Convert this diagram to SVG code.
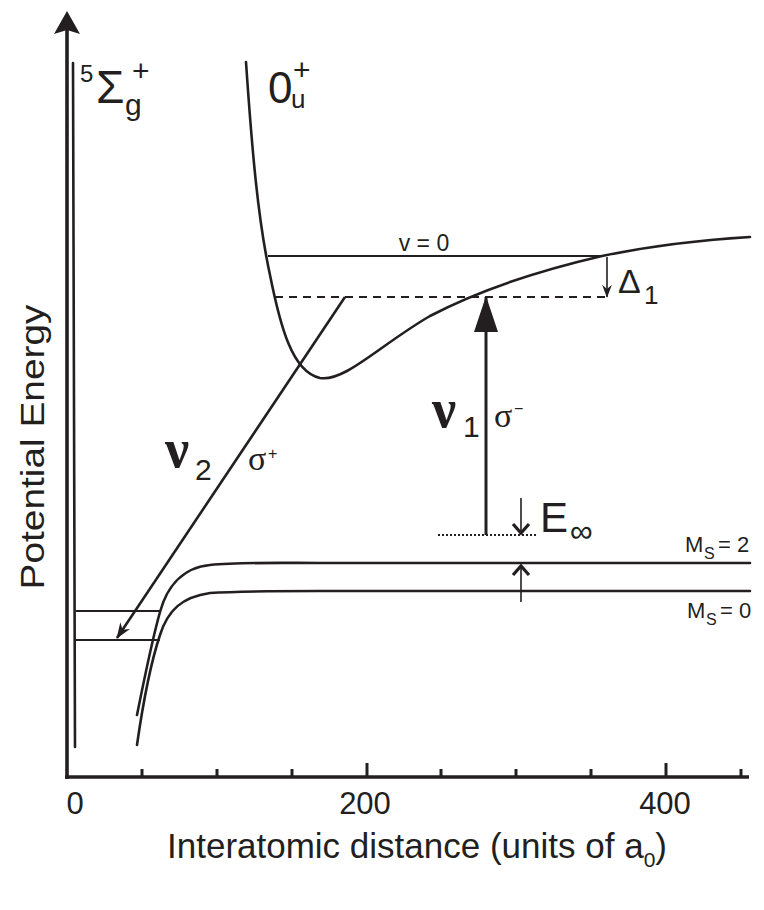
<svg xmlns="http://www.w3.org/2000/svg" width="764" height="910" viewBox="0 0 764 910">
<style>
.c{fill:none;stroke:#231f20;stroke-width:2.6;stroke-linecap:round}
.lv{fill:none;stroke:#231f20;stroke-width:2.2}
.ax{fill:none;stroke:#231f20;stroke-width:3.6}
.tk{stroke:#231f20;stroke-width:3}
.ar{fill:none;stroke:#231f20}
.s{font-family:"Liberation Sans",Arial,sans-serif;fill:#231f20}
.g{font-family:"Liberation Serif","Times New Roman",serif;fill:#231f20}
</style>
<defs>
<marker id="barb" viewBox="0 0 16 12" refX="15" refY="6" markerWidth="16" markerHeight="12" markerUnits="userSpaceOnUse" orient="auto">
<path d="M0,0 L16,6 L0,12 L5,6 Z" fill="#231f20"/>
</marker>
<marker id="barbS" viewBox="0 0 16 12" refX="15" refY="6" markerWidth="13" markerHeight="10" markerUnits="userSpaceOnUse" orient="auto">
<path d="M0,0 L16,6 L0,12 L5,6 Z" fill="#231f20"/>
</marker>
<marker id="tri" viewBox="0 0 36 24" refX="35" refY="12" markerWidth="36" markerHeight="24" markerUnits="userSpaceOnUse" orient="auto">
<path d="M0,0 L36,12 L0,24 Z" fill="#231f20"/>
</marker>
<marker id="chev" viewBox="0 0 12 20" refX="10" refY="10" markerWidth="12" markerHeight="20" markerUnits="userSpaceOnUse" orient="auto" overflow="visible">
<path d="M1,2 L10,10 L1,18" fill="none" stroke="#231f20" stroke-width="3.2"/>
</marker>
</defs>

<g id="axes">
<line class="ax" x1="67" y1="779" x2="67" y2="28"/>
<polygon points="67,11 80,34 67,30 54,34" fill="#231f20"/>
<line class="ax" x1="65.2" y1="777" x2="749" y2="777"/>
<g class="tk">
<line x1="142" y1="769" x2="142" y2="777"/>
<line x1="217" y1="769" x2="217" y2="777"/>
<line x1="292" y1="769" x2="292" y2="777"/>
<line x1="367" y1="763" x2="367" y2="777"/>
<line x1="441" y1="769" x2="441" y2="777"/>
<line x1="516" y1="769" x2="516" y2="777"/>
<line x1="591" y1="769" x2="591" y2="777"/>
<line x1="666" y1="763" x2="666" y2="777"/>
<line x1="741" y1="769" x2="741" y2="777"/>
</g>
<g class="s" font-size="31" text-anchor="middle">
<text x="75" y="814">0</text>
<text x="365" y="814">200</text>
<text x="665" y="814">400</text>
</g>
<text class="s" font-size="35" x="167" y="858">Interatomic distance (units of a<tspan font-size="21" dy="9">0</tspan><tspan dy="-9">)</tspan></text>
<text class="s" font-size="34" transform="translate(44,447) rotate(-90)" text-anchor="middle" textLength="285" lengthAdjust="spacingAndGlyphs">Potential Energy</text>
</g>

<g id="state-5sigma">
<line class="c" x1="73" y1="63" x2="75" y2="747"/>
<line class="lv" x1="76" y1="611" x2="160" y2="611"/>
<line class="lv" x1="76" y1="640" x2="160" y2="640"/>
<text class="s" font-size="24" x="80" y="82">5</text>
<text class="s" font-size="46" x="96" y="103">Σ</text>
<text class="s" font-size="30" x="125" y="115">g</text>
<text class="s" font-size="30" x="132" y="81">+</text>
</g>

<g id="state-0u">
<path class="c" d="M246,62 C252,150 258,220 270,275 C280,325 292,372 320,378 C345,382 380,345 430,316 C470,295 520,275 602,256 C650,246 700,240 750,237"/>
<line class="lv" x1="268" y1="256" x2="603" y2="256"/>
<text class="s" font-size="23" x="424" y="251" text-anchor="middle">v = 0</text>
<text class="s" font-size="44" x="268" y="103">0</text>
<text class="s" font-size="26" x="291" y="108">u</text>
<text class="s" font-size="30" x="293" y="80">+</text>
</g>

<g id="state-ms2">
<path class="c" d="M137,715 C144,680 152,640 160,612 C166,590 180,568 210,565 C240,562 280,563 320,563 L750,563"/>
<text class="s" font-size="22" x="685" y="552">M</text>
<text class="s" font-size="16" x="704" y="559">S</text>
<text class="s" font-size="22" x="718" y="552">= 2</text>
</g>

<g id="state-ms0">
<path class="c" d="M137,745 C142,710 150,665 160,635 C168,610 182,597 210,593 C240,591 280,591 320,591 L750,591"/>
<text class="s" font-size="22" x="687" y="618">M</text>
<text class="s" font-size="16" x="706" y="625">S</text>
<text class="s" font-size="22" x="720" y="618">= 0</text>
</g>

<g id="virtual-level">
<line class="lv" x1="275" y1="297" x2="607" y2="297" stroke-width="2.6" stroke-dasharray="8,6"/>
<line class="lv" x1="438" y1="535" x2="537" y2="535" stroke-width="2.6" stroke-dasharray="2,2"/>
</g>

<g id="connectors">
<line class="ar" stroke-width="2.6" x1="345" y1="297" x2="117" y2="638" marker-end="url(#barb)"/>
<line class="ar" stroke-width="3" x1="486" y1="535" x2="486" y2="297" marker-end="url(#tri)"/>
<line class="ar" stroke-width="1.6" x1="607" y1="257" x2="607" y2="297" marker-end="url(#barbS)"/>
<line class="ar" stroke-width="1.6" x1="521" y1="498" x2="521" y2="533" marker-end="url(#chev)"/>
<line class="ar" stroke-width="1.6" x1="521" y1="602" x2="521" y2="566" marker-end="url(#chev)"/>
</g>

<g id="labels">
<text class="g" font-size="54" font-weight="bold" x="165" y="467">ν</text>
<text class="s" font-size="30" x="195" y="480">2</text>
<text class="g" font-size="34" x="248" y="470">σ</text>
<text class="s" font-size="16" x="268" y="459">+</text>
<text class="g" font-size="54" font-weight="bold" x="432" y="427">ν</text>
<text class="s" font-size="30" x="463" y="437">1</text>
<text class="g" font-size="34" x="494" y="427">σ</text>
<text class="s" font-size="16" x="514" y="414">−</text>
<text class="s" font-size="34" x="618" y="293">Δ</text>
<text class="s" font-size="26" x="644" y="304">1</text>
<text class="s" font-size="42" x="540" y="532">E</text>
<text class="s" font-size="32" x="570" y="542">∞</text>
</g>
</svg>
